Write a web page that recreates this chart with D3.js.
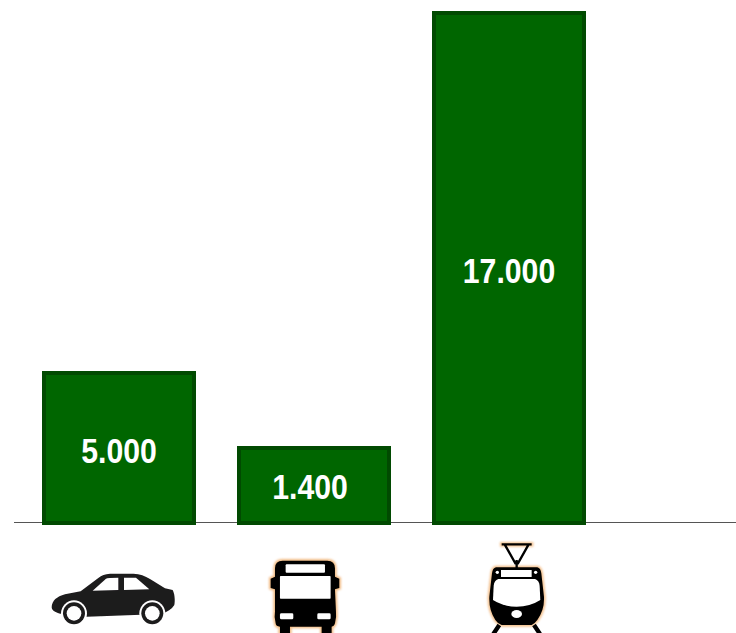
<!DOCTYPE html>
<html>
<head>
<meta charset="utf-8">
<script src="https://cdn.jsdelivr.net/npm/d3@7"></script>
<style>
  html, body { margin: 0; padding: 0; background: #fff; overflow: hidden; }
  svg { display: block; }
</style>
</head>
<body>
<div id="chart"></div>
<script>
var categories = ["car", "bus", "tram"];
// bar heights as drawn in the picture (the bus bar is taller than its label says)
var barValues = [5000, 2500, 17000];
var barLabels = ["5.000", "1.400", "17.000"];

var width = 736, height = 633;
var baseY = 523;

var svg = d3.select("#chart").append("svg")
  .attr("width", width)
  .attr("height", height);

var defs = svg.append("defs");
defs.append("filter").attr("id", "soft")
  .append("feGaussianBlur").attr("stdDeviation", 1.2);
defs.append("filter").attr("id", "halo")
  .append("feGaussianBlur").attr("stdDeviation", 3);

var x = d3.scaleBand()
  .domain(categories)
  .range([44, 584])
  .paddingInner(45 / 195)
  .paddingOuter(0);

var y = d3.scaleLinear()
  .domain([0, 17000])
  .range([baseY, 13]);

// baseline
svg.append("line")
  .attr("x1", 14).attr("x2", width)
  .attr("y1", baseY - 0.5).attr("y2", baseY - 0.5)
  .attr("stroke", "#555")
  .attr("stroke-width", 1);

svg.selectAll("rect.bar")
  .data(barValues)
  .enter().append("rect")
  .attr("class", "bar")
  .attr("x", function(d, i) { return x(categories[i]); })
  .attr("y", function(d) { return y(d); })
  .attr("width", x.bandwidth())
  .attr("height", function(d) { return baseY - y(d); })
  .attr("fill", "#006600")
  .attr("stroke", "#014a01")
  .attr("stroke-width", 4);

// no narrow face installed, so squeeze the bold one
// the bus label sits a little off centre in the original
svg.selectAll("text.value")
  .data(barLabels)
  .enter().append("text")
  .attr("class", "value")
  .attr("transform", function(d, i) {
    var tx = x(categories[i]) + x.bandwidth() / 2 - (i == 1 ? 4 : 0);
    var ty = (y(barValues[i]) + baseY) / 2 + (i == 1 ? 13 : 15);
    return "translate(" + tx + "," + ty + ") scale(0.84,1)";
  })
  .attr("text-anchor", "middle")
  .attr("font-family", "'Liberation Sans', sans-serif")
  .attr("font-weight", "bold")
  .attr("font-size", 36)
  .attr("fill", "#fff")
  .text(function(d) { return d; });

// icons, outlined at 3x from the picture
var car = svg.append("g")
  .attr("transform", "translate(30,510) scale(0.3333)")
  .attr("filter", "url(#soft)");
car.append("path")
  .attr("d", "M65,292 C66,272 80,260 105,253 L152,244 L205,204 C215,196 225,192 240,191 L310,191 C330,192 345,197 360,207 L405,235 L428,240 C434,250 436,272 433,285 C425,298 412,305 395,312 L170,320 L95,312 C75,308 66,302 65,292 Z")
  .attr("fill", "#1c1a1c");
car.append("path").attr("d", "M188,242 L228,206 Q232,203 265,203 L265,240 Z").attr("fill", "#fff");
car.append("path").attr("d", "M282,203 L318,203 L358,238 L282,240 Z").attr("fill", "#fff");
[132, 367].forEach(function(cx) {
  car.append("circle").attr("cx", cx).attr("cy", 310).attr("r", 39).attr("fill", "#fff");
  car.append("circle").attr("cx", cx).attr("cy", 310).attr("r", 33).attr("fill", "#1c1a1c");
  car.append("circle").attr("cx", cx).attr("cy", 310).attr("r", 22).attr("fill", "#fff");
});

var busPath = "M735,175 Q735,152 758,152 L892,152 Q915,152 915,175 L915,200 L928,206 L928,234 L915,238 L918,305 Q920,320 915,340 Q912,350 905,350 L905,369 L875,369 L875,350 L780,350 L780,369 L750,369 L750,350 Q738,350 737,340 Q732,320 735,305 L735,238 L722,234 L722,206 L735,200 Z";
var bus = svg.append("g").attr("transform", "translate(30,510) scale(0.3333)");
bus.append("path").attr("d", busPath)
  .attr("fill", "#f0b070").attr("stroke", "#f0b070").attr("stroke-width", 10)
  .attr("filter", "url(#halo)").attr("opacity", 0.85);
var busTop = bus.append("g").attr("filter", "url(#soft)");
busTop.append("path").attr("d", busPath).attr("fill", "#000");
busTop.append("rect").attr("x", 767).attr("y", 163).attr("width", 118).attr("height", 25).attr("rx", 3).attr("fill", "#fff");
busTop.append("rect").attr("x", 750).attr("y", 198).attr("width", 152).attr("height", 68).attr("rx", 2).attr("fill", "#fff");
busTop.append("rect").attr("x", 750).attr("y", 310).attr("width", 40).attr("height", 18).attr("rx", 4).attr("fill", "#fff");
busTop.append("rect").attr("x", 862).attr("y", 310).attr("width", 40).attr("height", 18).attr("rx", 4).attr("fill", "#fff");

var tramBody = "M228,172 L352,172 Q362,174 364,190 L372,260 Q374,300 352,330 Q345,340 335,345 L245,345 Q232,340 226,330 Q206,300 208,260 L216,190 Q218,174 228,172 Z";
var tramLegs = "M238,345 L220,372 M342,345 L360,372";
var tramPanto = "M245,103 L335,103 M254,103 L286,160 L294,160 L326,103 M290,150 L290,175";
var tram = svg.append("g").attr("transform", "translate(420,510) scale(0.3333)");
var tramHalo = tram.append("g").attr("filter", "url(#halo)").attr("opacity", 0.8);
tramHalo.append("path").attr("d", tramBody).attr("fill", "#f0b070").attr("stroke", "#f0b070").attr("stroke-width", 10);
tramHalo.append("path").attr("d", "M240,103 L340,103").attr("fill", "none").attr("stroke", "#f0b070").attr("stroke-width", 14);
var tramTop = tram.append("g").attr("filter", "url(#soft)");
tramTop.append("path").attr("d", tramLegs).attr("stroke", "#000").attr("stroke-width", 13).attr("fill", "none");
tramTop.append("path").attr("d", tramPanto).attr("stroke", "#000").attr("stroke-width", 7).attr("fill", "none");
tramTop.append("path").attr("d", tramBody).attr("fill", "#000");
tramTop.append("rect").attr("x", 243).attr("y", 180).attr("width", 92).attr("height", 21).attr("fill", "#fff");
tramTop.append("path")
  .attr("d", "M235,207 L345,207 Q358,212 359,228 L361,270 Q330,290 290,290 Q250,290 219,270 L221,228 Q222,212 235,207 Z")
  .attr("fill", "#fff");
tramTop.append("ellipse").attr("cx", 290).attr("cy", 312).attr("rx", 16).attr("ry", 12).attr("fill", "#fff");
tramTop.append("circle").attr("cx", 232).attr("cy", 187).attr("r", 5).attr("fill", "#fff");
tramTop.append("circle").attr("cx", 347).attr("cy", 187).attr("r", 5).attr("fill", "#fff");
</script>
</body>
</html>
